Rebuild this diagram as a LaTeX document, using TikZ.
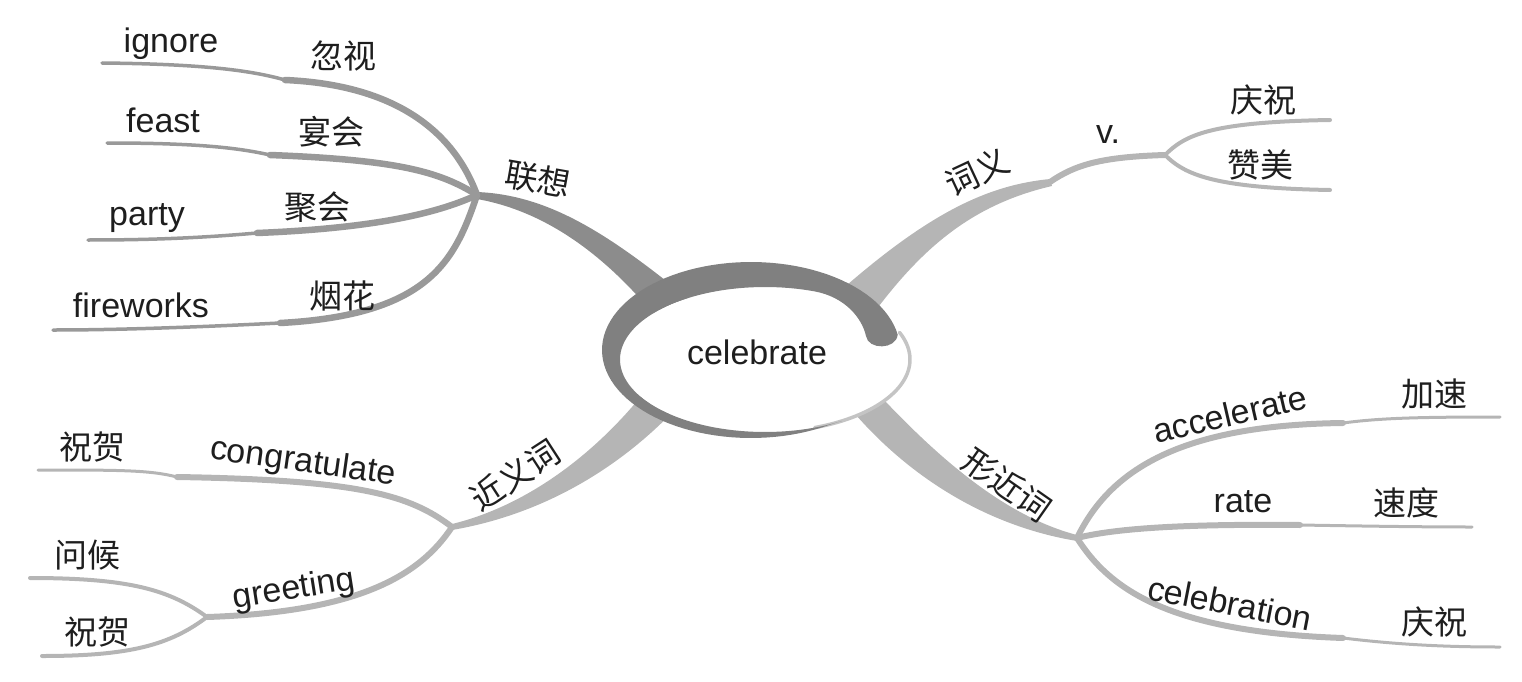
\documentclass[tikz,border=0pt]{standalone}
\usepackage{fontspec}
\setmainfont{Liberation Sans}
\newfontfamily\cjkf{Noto Sans CJK SC}
\newcommand\mylat{\fontsize{34}{40}\selectfont}
\newcommand\mycjk{\cjkf\fontsize{33}{40}\selectfont}
\definecolor{gA}{HTML}{999999}
\definecolor{gAd}{HTML}{8C8C8C}
\definecolor{gB}{HTML}{B5B5B5}
\definecolor{ringc}{HTML}{808080}
\definecolor{rimc}{HTML}{C4C4C4}
\definecolor{txt}{HTML}{1E1E1E}
\begin{document}
\begin{tikzpicture}[x=1pt,y=-1pt,
  en/.style={font=\mylat, text=txt, inner sep=0pt},
  zh/.style={font=\mycjk, text=txt, inner sep=0pt},
  thA/.style={draw=gA, line width=6.5pt, line cap=round},
  tnA/.style={draw=gA, line width=3.5pt, line cap=round},
  thB/.style={draw=gB, line width=6pt, line cap=round},
  tnB/.style={draw=gB, line width=3pt, line cap=round},
  midB/.style={draw=gB, line width=4pt, line cap=round},
  bandA/.style={fill=gAd},
  bandB/.style={fill=gB}]
\useasboundingbox (0,0) rectangle (1522,682);

% hubs and step points
\coordinate (L) at (477,195);
\coordinate (W1) at (1050,182);
\coordinate (V) at (1165,155);
\coordinate (X) at (1077,538);
\coordinate (Y) at (452,527);
\coordinate (Z) at (207,617);
\coordinate (sig) at (285,80);   \coordinate (eig) at (102,63);
\coordinate (sfe) at (270,155);  \coordinate (efe) at (107,143);
\coordinate (spa) at (257,233);  \coordinate (epa) at (88,240);
\coordinate (sfw) at (280,323);  \coordinate (efw) at (53,330);
\coordinate (eqz) at (1330,120); \coordinate (ezm) at (1330,190);
\coordinate (sac) at (1343,423); \coordinate (eac) at (1500,417);
\coordinate (sra) at (1300,525); \coordinate (era) at (1472,527);
\coordinate (scb) at (1343,638); \coordinate (ecb) at (1500,647);
\coordinate (scg) at (177,477);  \coordinate (ecg) at (38,470);
\coordinate (ewh) at (30,578);   \coordinate (ezh) at (42,656);

% main tapered bands
\path[bandA] (477,192) .. controls (550,195) and (610,235) .. (690,300) -- (660,322) .. controls (610,260) and (550,212) .. (477,199) -- cycle;
\path[bandB] (1050,179) .. controls (990,185) and (930,210) .. (830,300) -- (870,318) .. controls (920,250) and (970,205) .. (1052,186) -- cycle;
\path[bandB] (1077,535) .. controls (1000,515) and (930,450) .. (870,385) -- (845,402) .. controls (900,470) and (980,525) .. (1077,541) -- cycle;
\path[bandB] (452,524) .. controls (530,505) and (600,450) .. (650,385) -- (682,402) .. controls (620,470) and (540,515) .. (452,530) -- cycle;

% lianxiang sub-branches
\draw[thA] (L) .. controls (455,135) and (400,85) .. (sig);
\draw[tnA] (sig) .. controls (250,70) and (200,64) .. (eig);
\draw[thA] (L) .. controls (440,172) and (400,160) .. (sfe);
\draw[tnA] (sfe) .. controls (235,147) and (190,143) .. (efe);
\draw[thA] (L) .. controls (440,212) and (380,228) .. (spa);
\draw[tnA] (spa) .. controls (200,238) and (150,240) .. (epa);
\draw[thA] (L) .. controls (455,260) and (430,315) .. (sfw);
\draw[tnA] (sfw) .. controls (200,327) and (120,330) .. (efw);

% ciyi
\draw[gB, line width=6pt, line cap=round] (W1) .. controls (1075,165) and (1100,157) .. (V);
\draw[midB] (V) .. controls (1185,135) and (1210,122) .. (eqz);
\draw[midB] (V) .. controls (1185,175) and (1215,188) .. (ezm);

% xingjinci
\draw[thB] (X) .. controls (1110,470) and (1180,425) .. (sac);
\draw[tnB] (sac) .. controls (1380,418) and (1420,417) .. (eac);
\draw[thB] (X) .. controls (1120,527) and (1200,524) .. (sra);
\draw[tnB] (sra) .. controls (1360,526) and (1420,527) .. (era);
\draw[thB] (X) .. controls (1110,590) and (1170,632) .. (scb);
\draw[tnB] (scb) .. controls (1400,645) and (1450,647) .. (ecb);

% jinyici
\draw[thB] (Y) .. controls (410,495) and (360,480) .. (scg);
\draw[tnB] (scg) .. controls (150,470) and (120,470) .. (ecg);
\draw[thB] (Y) .. controls (420,575) and (360,612) .. (Z);
\draw[midB] (Z) .. controls (170,590) and (130,578) .. (ewh);
\draw[midB] (Z) .. controls (170,645) and (130,656) .. (ezh);

% central plate and swirl
\fill[white] plot[domain=0:360, samples=90] ({765+145*cos(\x)},{359.5+72.5*sin(\x)});
\draw[rimc, line width=3.5pt, line cap=round] plot[domain=-22:70, samples=40] ({765+145*cos(\x)},{359.5+72.5*sin(\x)});
\fill[ringc] plot[domain=350:58, samples=90] ({751+149*cos(\x)},{350+88*sin(\x)})
  -- plot[domain=58:290, samples=90] ({765+145*cos(\x)},{359.5+72.5*sin(\x)})
  .. controls (845,297) and (862,318) .. (866,336)
  .. controls (868,350) and (896,350) .. (897.7,334.7) -- cycle;

% labels
\node[en, anchor=base] (c) at (757,364) {celebrate};
\node[zh, rotate=-10] (lx) at (538,179) {联想};
\node[zh, rotate=25] (cy) at (977,172) {词义};
\node[zh, rotate=33] (jy) at (515,475) {近义词};
\node[zh, rotate=-35] (xj) at (1007,485) {形近词};

\node[en, anchor=base] (ig) at (171,53) {ignore};
\node[zh] (hs) at (343,56) {忽视};
\node[en, anchor=base] (fe) at (163,132) {feast};
\node[zh] (yh) at (331,132) {宴会};
\node[en, anchor=base] (pa) at (147,225) {party};
\node[zh] (jh) at (317,207) {聚会};
\node[en, anchor=base] (fw) at (141,317) {fireworks};
\node[zh] (yhh) at (342,296) {烟花};

\node[en, anchor=base] (v) at (1108,143) {v.};
\node[zh] (qz1) at (1263,100) {庆祝};
\node[zh] (zm) at (1260,165) {赞美};

\node[en, rotate=13] (ac) at (1230,414) {accelerate};
\node[zh] (js) at (1434,394) {加速};
\node[en, anchor=base] (ra) at (1243,512) {rate};
\node[zh] (sd) at (1406,503) {速度};
\node[en, rotate=-11] (cb) at (1230,603) {celebration};
\node[zh] (qz2) at (1434,622) {庆祝};

\node[zh] (zh1) at (92,447) {祝贺};
\node[en, rotate=-8] (cg) at (303,463) {congratulate};
\node[en, rotate=9] (gr) at (294,590) {greeting};
\node[zh] (wh) at (87,555) {问候};
\node[zh] (zh2) at (97,632) {祝贺};
\end{tikzpicture}
\end{document}
